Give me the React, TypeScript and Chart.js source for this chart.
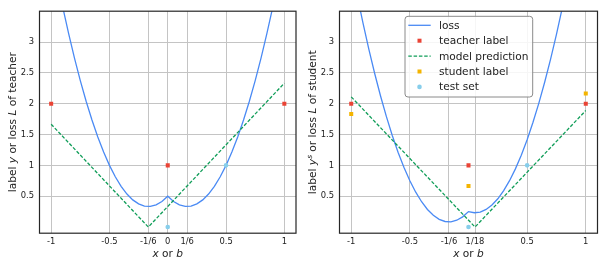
import React, { useEffect, useRef } from 'react';
import { Chart, registerables } from 'chart.js';

Chart.register(...registerables);

// ---------- data ----------
const lossB = [
  -0.95, -0.9, -0.85, -0.8, -0.75, -0.7, -0.65, -0.6, -0.55, -0.5, -0.45, -0.4, -0.35, -0.3, -0.25, -0.2,
  -0.15, -0.1, -0.05, 0, 0.05, 0.1, 0.15, 0.2, 0.25, 0.3, 0.35, 0.4, 0.45, 0.5, 0.55, 0.6, 0.65, 0.7,
  0.75, 0.8, 0.85, 0.9, 0.95,
];
const teacherLoss = [
  4.015, 3.56, 3.135, 2.74, 2.375, 2.04, 1.735, 1.46, 1.215, 1.0, 0.815, 0.66, 0.535, 0.44, 0.375, 0.34,
  0.335, 0.36, 0.415, 0.5, 0.415, 0.36, 0.335, 0.34, 0.375, 0.44, 0.535, 0.66, 0.815, 1.0, 1.215, 1.46,
  1.735, 2.04, 2.375, 2.74, 3.135, 3.56, 4.015,
];
const studentLoss = [
  3.765, 3.31, 2.885, 2.49, 2.125, 1.79, 1.485, 1.21, 0.965, 0.75, 0.565, 0.41, 0.285, 0.19, 0.125, 0.09,
  0.085, 0.11, 0.165, 0.25, 0.2317, 0.2433, 0.285, 0.3567, 0.4583, 0.59, 0.7517, 0.9433, 1.165, 1.4167,
  1.6983, 2.01, 2.3517, 2.7233, 3.125, 3.5567, 4.0183, 4.51, 5.0317,
];
const teacherPredX = [-1, -1 / 6, 1];
const teacherPredY = [1.667, 0, 2.333];
const studentPredX = [-1, 1 / 18, 1];
const studentPredY = [2.111, 0, 1.889];
const labelX = [-1, 0, 1];
const teacherLabelY = [2, 1, 2];
const studentLabelY = [1.833, 0.667, 2.167];
const testX = [0, 0.5];
const testY = [0, 1];

const teacherTickValues = [-1, -0.5, -1 / 6, 0, 1 / 6, 0.5, 1];
const teacherTickLabels = ['-1', '-0.5', '-1/6', '0', '1/6', '0.5', '1'];
const studentTickValues = [-1, -0.5, -1 / 6, 1 / 18, 0.5, 1];
const studentTickLabels = ['-1', '-0.5', '-1/6', '1/18', '0.5', '1'];
const yTickValues = [0.5, 1, 1.5, 2, 2.5, 3];
const yTickLabels = ['0.5', '1', '1.5', '2', '2.5', '3'];

const seriesNames = ['loss', 'teacher label', 'model prediction', 'student label', 'test set'];

// ---------- styles ----------
const FONT = '"DejaVu Sans", "Liberation Sans", sans-serif';
const C_LOSS = '#4a8af4';
const C_TEACHER = '#ea4335';
const C_PRED = '#0f9d58';
const C_STUDENT = '#f4b400';
const C_TEST = '#87ceeb';
const GRID = '#c4c4c4';
const FRAME = '#262626';
const TEXT = '#222222';

type Seg = { text: string; italic?: boolean; sup?: boolean };

const teacherYTitle: Seg[] = [
  { text: 'label ' }, { text: 'y', italic: true }, { text: ' or loss ' }, { text: 'L', italic: true }, { text: ' of teacher' },
];
const studentYTitle: Seg[] = [
  { text: 'label ' }, { text: 'y', italic: true }, { text: 's', italic: true, sup: true }, { text: ' or loss ' },
  { text: 'L', italic: true }, { text: ' of student' },
];
const xTitle: Seg[] = [{ text: 'x', italic: true }, { text: ' or ' }, { text: 'b', italic: true }];

const xy = (xs: number[], ys: number[]) => xs.map((x, i) => ({ x, y: ys[i] }));

function segFont(s: Seg, size: number) {
  const sz = s.sup ? size * 0.7 : size;
  return `${s.italic ? 'italic ' : ''}${sz}px ${FONT}`;
}

function drawSegs(ctx: CanvasRenderingContext2D, segs: Seg[], x: number, y: number, size: number, rotate: boolean) {
  ctx.save();
  ctx.translate(x, y);
  if (rotate) ctx.rotate(-Math.PI / 2);
  ctx.textBaseline = 'alphabetic';
  ctx.textAlign = 'left';
  ctx.fillStyle = TEXT;
  const widths = segs.map((s) => {
    ctx.font = segFont(s, size);
    return ctx.measureText(s.text).width;
  });
  const total = widths.reduce((a, b) => a + b, 0);
  let cx = -total / 2;
  segs.forEach((s, i) => {
    ctx.font = segFont(s, size);
    ctx.fillText(s.text, cx, s.sup ? -size * 0.38 : 0);
    cx += widths[i];
  });
  ctx.restore();
}

function drawMarker(ctx: CanvasRenderingContext2D, kind: string, color: string, x: number, y: number) {
  ctx.save();
  ctx.fillStyle = color;
  ctx.strokeStyle = color;
  if (kind === 'line' || kind === 'dash') {
    ctx.lineWidth = 1.3;
    if (kind === 'dash') ctx.setLineDash([3.5, 1.8]);
    ctx.beginPath();
    ctx.moveTo(x - 11.2, y);
    ctx.lineTo(x + 11.2, y);
    ctx.stroke();
  } else if (kind === 'rect') {
    ctx.fillRect(x - 2, y - 2, 4, 4);
  } else {
    ctx.beginPath();
    ctx.arc(x, y, 2.3, 0, Math.PI * 2);
    ctx.fill();
  }
  ctx.restore();
}

type PanelProps = {
  student: boolean;
  width: number;
  left: number;
};

function Panel({ student, width, left }: PanelProps) {
  const ref = useRef<HTMLCanvasElement | null>(null);

  useEffect(() => {
    const canvas = ref.current;
    if (!canvas) return;
    const tickValues = student ? studentTickValues : teacherTickValues;
    const tickLabels = student ? studentTickLabels : teacherTickLabels;

    const datasets: any[] = [
      {
        label: seriesNames[0],
        data: xy(lossB, student ? studentLoss : teacherLoss),
        showLine: true,
        borderColor: C_LOSS,
        borderWidth: 1.3,
        pointRadius: 0,
        fill: false,
        clip: 0,
        order: 5,
      },
      {
        label: seriesNames[1],
        data: xy(labelX, teacherLabelY),
        pointStyle: 'rect',
        pointRadius: 2.85,
        pointBorderWidth: 0,
        backgroundColor: C_TEACHER,
        borderColor: C_TEACHER,
        order: 4,
      },
      {
        label: seriesNames[2],
        data: student ? xy(studentPredX, studentPredY) : xy(teacherPredX, teacherPredY),
        showLine: true,
        borderColor: C_PRED,
        borderWidth: 1.3,
        borderDash: [3.5, 1.8],
        pointRadius: 0,
        fill: false,
        clip: 0,
        order: 3,
      },
    ];
    if (student) {
      datasets.push({
        label: seriesNames[3],
        data: xy(labelX, studentLabelY),
        pointStyle: 'rect',
        pointRadius: 2.85,
        pointBorderWidth: 0,
        backgroundColor: C_STUDENT,
        borderColor: C_STUDENT,
        order: 2,
      });
    }
    datasets.push({
      label: seriesNames[4],
      data: xy(testX, testY),
      pointStyle: 'circle',
      pointRadius: 2.3,
      pointBorderWidth: 0,
      backgroundColor: C_TEST,
      borderColor: C_TEST,
      order: 1,
    });

    const framePlugin = {
      id: 'frameTitles',
      afterDatasetsDraw(chart: any) {
        const { ctx, chartArea } = chart;
        ctx.save();
        ctx.strokeStyle = FRAME;
        ctx.lineWidth = 1.2;
        ctx.strokeRect(chartArea.left, chartArea.top, chartArea.right - chartArea.left, chartArea.bottom - chartArea.top);
        ctx.restore();
        const midY = (chartArea.top + chartArea.bottom) / 2;
        const midX = (chartArea.left + chartArea.right) / 2;
        drawSegs(ctx, student ? studentYTitle : teacherYTitle, 16.3, midY, 10.6, true);
        drawSegs(ctx, xTitle, midX, 256.5, 10.6, false);

        if (student) {
          // legend
          const bx = 105, by = 16.3, bw = 127.7, bh = 80.7, r = 3;
          ctx.save();
          ctx.beginPath();
          ctx.moveTo(bx + r, by);
          ctx.lineTo(bx + bw - r, by);
          ctx.arcTo(bx + bw, by, bx + bw, by + r, r);
          ctx.lineTo(bx + bw, by + bh - r);
          ctx.arcTo(bx + bw, by + bh, bx + bw - r, by + bh, r);
          ctx.lineTo(bx + r, by + bh);
          ctx.arcTo(bx, by + bh, bx, by + bh - r, r);
          ctx.lineTo(bx, by + r);
          ctx.arcTo(bx, by, bx + r, by, r);
          ctx.closePath();
          ctx.fillStyle = 'rgba(255,255,255,0.85)';
          ctx.fill();
          ctx.strokeStyle = '#8a8a8a';
          ctx.lineWidth = 1;
          ctx.stroke();
          ctx.restore();
          const kinds = ['line', 'rect', 'dash', 'rect', 'circle'];
          const colors = [C_LOSS, C_TEACHER, C_PRED, C_STUDENT, C_TEST];
          seriesNames.forEach((name, i) => {
            const base = 28.7 + 15.4 * i;
            drawMarker(ctx, kinds[i], colors[i], 119.5, base - 3.4);
            ctx.save();
            ctx.font = `10.6px ${FONT}`;
            ctx.fillStyle = TEXT;
            ctx.textBaseline = 'alphabetic';
            ctx.textAlign = 'left';
            ctx.fillText(name, 139, base);
            ctx.restore();
          });
        }
      },
    };

    const chart = new Chart(canvas, {
      type: 'scatter',
      data: { datasets },
      plugins: [framePlugin],
      options: {
        animation: false,
        responsive: false,
        maintainAspectRatio: false,
        events: [],
        layout: { padding: { top: 11.2, right: width - 297.5, left: 0, bottom: 0 } },
        plugins: { legend: { display: false }, tooltip: { enabled: false }, title: { display: false } },
        scales: {
          x: {
            type: 'linear',
            min: -1.1,
            max: 1.1,
            afterBuildTicks: (s: any) => {
              s.ticks = tickValues.map((v) => ({ value: v }));
            },
            afterFit: (s: any) => {
              s.height = 33.8;
            },
            grid: { color: GRID, lineWidth: 1, drawTicks: false },
            border: { display: false },
            ticks: {
              padding: 4,
              autoSkip: false,
              maxRotation: 0,
              color: TEXT,
              font: { family: FONT, size: 8.4 },
              callback: (value: any) => {
                const idx = tickValues.findIndex((v) => Math.abs(v - Number(value)) < 1e-9);
                return idx >= 0 ? tickLabels[idx] : '';
              },
            },
          },
          y: {
            type: 'linear',
            min: -0.1,
            max: 3.5,
            afterBuildTicks: (s: any) => {
              s.ticks = yTickValues.map((v) => ({ value: v }));
            },
            afterFit: (s: any) => {
              s.width = 39.5;
            },
            grid: { color: GRID, lineWidth: 1, drawTicks: false },
            border: { display: false },
            ticks: {
              padding: 5.5,
              autoSkip: false,
              color: TEXT,
              font: { family: FONT, size: 8.4 },
              callback: (value: any) => {
                const idx = yTickValues.findIndex((v) => Math.abs(v - Number(value)) < 1e-9);
                return idx >= 0 ? yTickLabels[idx] : '';
              },
            },
          },
        },
      } as any,
    });
    return () => chart.destroy();
  }, [student, width]);

  return (
    <canvas
      ref={ref}
      width={width}
      height={267}
      style={{ position: 'absolute', left, top: 0, width, height: 267, display: 'block' }}
    />
  );
}

export default function App() {
  return (
    <div style={{ position: 'absolute', left: 0, top: 0, width: 609, height: 267, background: '#fff', overflow: 'hidden' }}>
      <Panel student={false} width={300} left={0} />
      <Panel student={true} width={309} left={300} />
    </div>
  );
}
